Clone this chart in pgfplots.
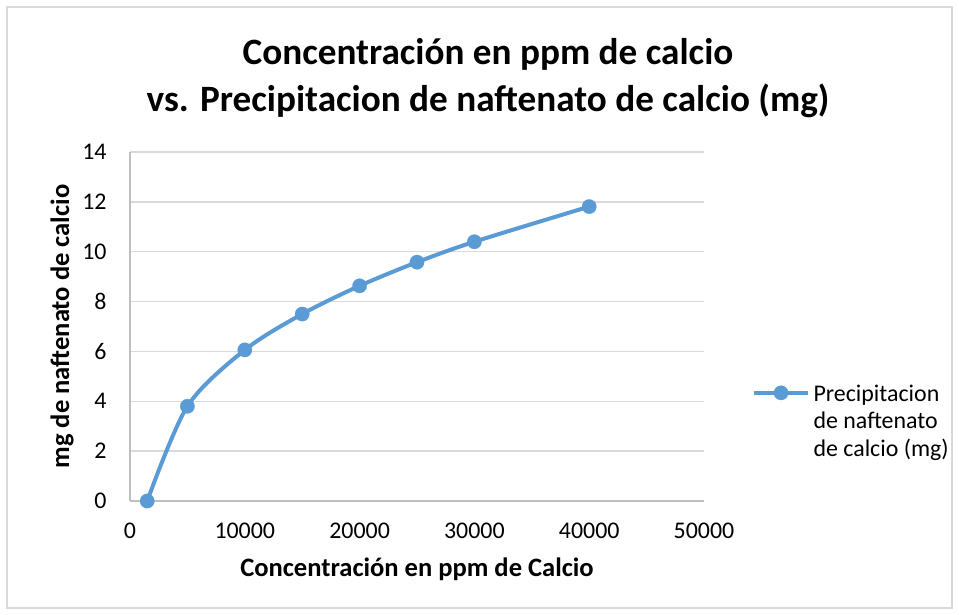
\documentclass[border=0pt]{standalone}
\usepackage{fontspec}
\setmainfont{Carlito}
\usepackage{pgfplots}
\pgfplotsset{compat=1.18}
\definecolor{xlblue}{HTML}{5B9BD5}
\definecolor{gridgray}{HTML}{D9D9D9}
\definecolor{axgray}{HTML}{BFBFBF}
\begin{document}
\begin{tikzpicture}
\useasboundingbox (0,0) rectangle (479.5bp,307.5bp);
\draw[gridgray, line width=0.6bp] (3.5bp,3.5bp) rectangle (476bp,304bp);
\node[anchor=base, font=\fontsize{18.67}{22}\selectfont\bfseries] at (244bp,275bp) {Concentración en ppm de calcio};
\node[anchor=base, font=\fontsize{18.67}{22}\selectfont\bfseries] at (244bp,251.5bp) {vs. Precipitacion de naftenato de calcio (mg)};
\begin{axis}[
  scale only axis,
  width=287bp, height=174.5bp,
  at={(65bp,57bp)}, anchor=south west,
  xmin=0, xmax=50000, ymin=0, ymax=14,
  xtick={0,10000,20000,30000,40000,50000},
  ytick={0,2,4,6,8,10,12,14},
  scaled x ticks=false,
  /pgf/number format/set thousands separator={},
  /pgf/number format/assume math mode=true,
  axis lines*=left,
  axis line style={axgray, line width=0.75bp},
  x axis line style={-}, y axis line style={-},
  major tick length=0pt,
  ymajorgrids,
  grid style={gridgray, line width=0.75bp},
  tick label style={font=\fontsize{12}{14}\selectfont},
  yticklabel style={anchor=east, inner xsep=0pt, xshift=-11.5bp},
  xticklabel style={anchor=base, yshift=-18.5bp},
  xlabel={Concentración en ppm de Calcio},
  ylabel={mg de naftenato de calcio},
  label style={font=\fontsize{13.33}{16}\selectfont\bfseries},
  xlabel style={at={(axis description cs:0.5,-0.2149)}, anchor=base},
  ylabel style={at={(axis description cs:-0.1185,0.5)}, anchor=center},
  clip=false,
  legend cell align=left,
  legend style={draw=none, fill=none, inner sep=0pt, column sep=0pt,
    at={(axis description cs:1.083,0.353)}, anchor=north west,
    font=\fontsize{12}{13.85}\selectfont,
    nodes={inner sep=1.75bp}},
  legend image code/.code={\draw[mark repeat=2,mark phase=2,#1] plot coordinates {(0bp,0bp) (13.5bp,0bp) (27bp,0bp)};},
]
\addplot[xlblue, line width=2bp, smooth, tension=0.5, mark=*, mark size=3.6bp, mark options={fill=xlblue, draw=xlblue, line width=0.1bp}]
  coordinates {(1500,0) (5000,3.8) (10000,6.06) (15000,7.5) (20000,8.63) (25000,9.58) (30000,10.4) (40000,11.81)};
\addlegendentry{\begin{tabular}[t]{@{}l@{}}Precipitacion\\de naftenato\\de calcio (mg)\end{tabular}}
\end{axis}
\end{tikzpicture}
\end{document}
